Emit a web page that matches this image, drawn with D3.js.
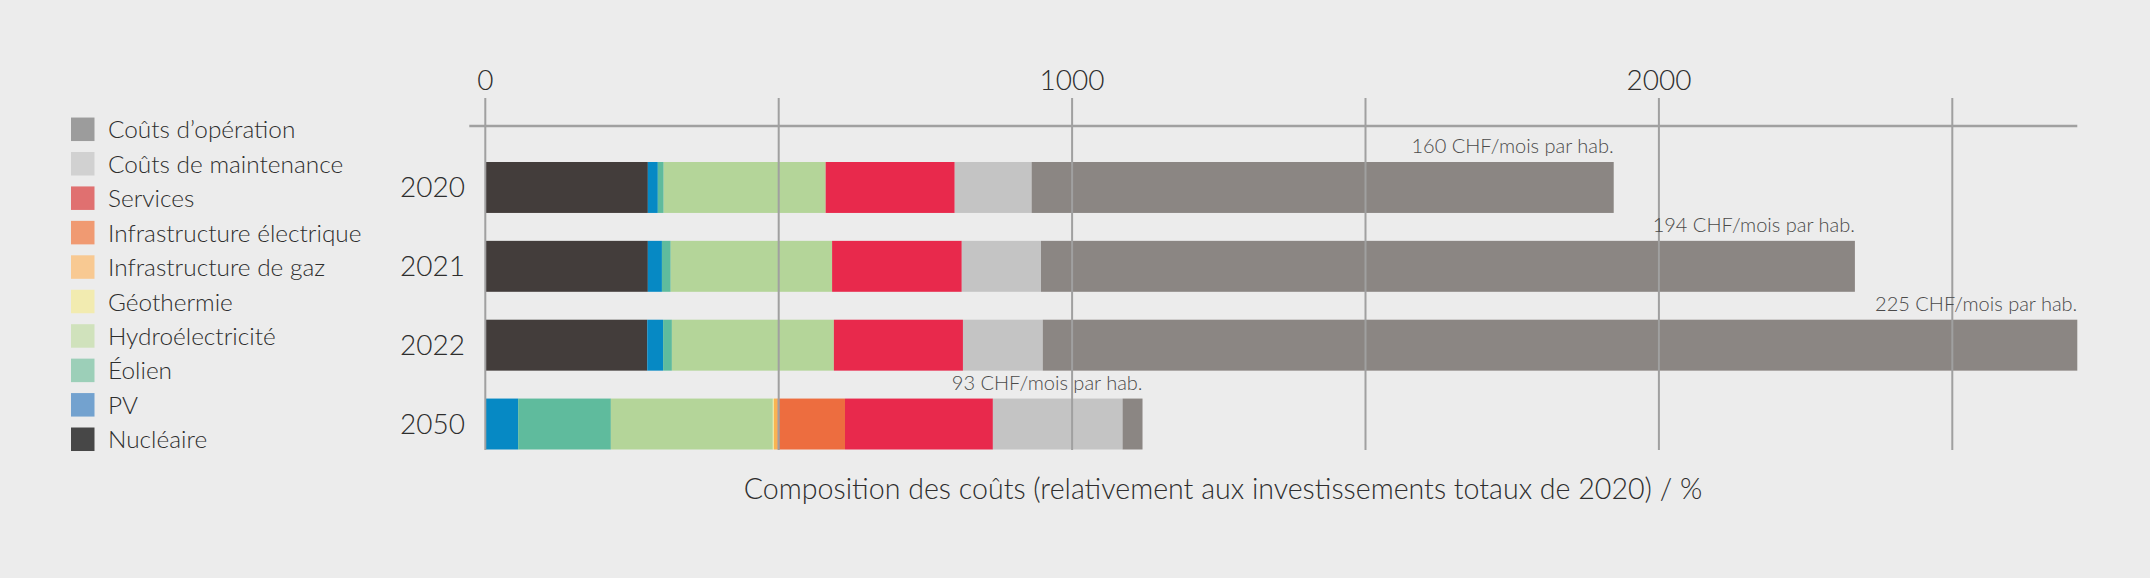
<!DOCTYPE html>
<html>
<head>
<meta charset="utf-8">
<script src="https://cdn.jsdelivr.net/npm/d3@7"></script>
<style>
  html, body { margin: 0; padding: 0; background: #ececec; }
  svg { display: block; }
  text { font-family: Lato, "Open Sans", sans-serif; font-weight: 300; }
</style>
</head>
<body>
<svg id="chart" width="2150" height="578"></svg>
<script>
// ---- data ----
const categories = ["2020", "2021", "2022", "2050"];
const seriesNames = ["Nucléaire", "PV", "Éolien", "Hydroélectricité", "Géothermie",
  "Infrastructure de gaz", "Infrastructure électrique", "Services",
  "Coûts de maintenance", "Coûts d’opération"];
const nucleaire   = [277, 277, 276, 0];
const pv          = [17, 24, 27, 56];
const eolien      = [10, 15, 15, 158];
const hydro       = [276, 275, 276, 276];
const geothermie  = [0, 0, 0, 2];
const gaz         = [0, 0, 0, 6];
const elec        = [0, 0, 0, 115];
const services    = [220, 221, 220, 252];
const maintenance = [131, 135, 136, 221];
const operation   = [992, 1387, 1763, 34];
const perCapita   = [160, 194, 225, 93];
const gridTicks   = [0, 500, 1000, 1500, 2000, 2500];
const labelTicks  = [0, 1000, 2000];
const legendOrder = ["Coûts d’opération", "Coûts de maintenance", "Services",
  "Infrastructure électrique", "Infrastructure de gaz", "Géothermie",
  "Hydroélectricité", "Éolien", "PV", "Nucléaire"];
const axisTitle = "Composition des coûts (relativement aux investissements totaux de 2020) / %";

// ---- styles ----
const barColors = {
  "Nucléaire": "#433d3b", "PV": "#0689c4", "Éolien": "#5fbb9d",
  "Hydroélectricité": "#b4d599", "Géothermie": "#f1e6a0",
  "Infrastructure de gaz": "#f8b452", "Infrastructure électrique": "#ed6d3f",
  "Services": "#e8294c", "Coûts de maintenance": "#c4c4c4", "Coûts d’opération": "#8b8683"
};
const legendColors = {
  "Coûts d’opération": "#9c9c9c", "Coûts de maintenance": "#d1d1d1",
  "Services": "#e07070", "Infrastructure électrique": "#f09a72",
  "Infrastructure de gaz": "#f8c992", "Géothermie": "#f2ebb0",
  "Hydroélectricité": "#d0e2bc", "Éolien": "#9ccfb8", "PV": "#73a2cf",
  "Nucléaire": "#474747"
};

const seriesArrays = [nucleaire, pv, eolien, hydro, geothermie, gaz, elec, services, maintenance, operation];
const table = categories.map((c, i) => {
  const row = { year: c };
  seriesNames.forEach((s, j) => row[s] = seriesArrays[j][i]);
  return row;
});

const svg = d3.select("#chart");
svg.append("rect").attr("width", 2150).attr("height", 578).attr("fill", "#ececec");

const x = d3.scaleLinear().domain([0, 2500]).range([485.3, 1952.3]);
const y = d3.scaleBand().domain(categories).range([162, 449.5]).paddingInner(0.354).paddingOuter(0);

const stack = d3.stack().keys(seriesNames)(table);

// bars
const g = svg.append("g");
g.selectAll("g.series").data(stack).join("g")
  .attr("class", "series")
  .attr("fill", d => barColors[d.key])
  .selectAll("rect").data(d => d.filter(v => v[1] - v[0] > 0)).join("rect")
  .attr("x", d => x(d[0]))
  .attr("y", d => y(d.data.year))
  .attr("width", d => x(d[1]) - x(d[0]))
  .attr("height", y.bandwidth());

const totals = table.map(r => d3.sum(seriesNames, s => r[s]));
const maxTotal = d3.max(totals);

// grid lines (on top of bars)
const gridColor = "#a0a0a0";
svg.append("g").selectAll("line").data(gridTicks).join("line")
  .attr("x1", d => x(d)).attr("x2", d => x(d))
  .attr("y1", 98).attr("y2", 450)
  .attr("stroke", gridColor).attr("stroke-width", 2);

// top axis line
svg.append("line")
  .attr("x1", x(0) - 16).attr("x2", x(maxTotal))
  .attr("y1", 126).attr("y2", 126)
  .attr("stroke", gridColor).attr("stroke-width", 2.5);

// tick labels
svg.append("g").selectAll("text").data(labelTicks).join("text")
  .attr("x", d => x(d)).attr("y", 90)
  .attr("text-anchor", "middle")
  .attr("font-size", 28).attr("fill", "#2e2e2e")
  .text(d => d);

// year labels
svg.append("g").selectAll("text").data(categories).join("text")
  .attr("x", 465).attr("y", d => y(d) + y.bandwidth() / 2 + 10)
  .attr("text-anchor", "end")
  .attr("font-size", 28).attr("fill", "#2e2e2e")
  .text(d => d);

// per-capita labels
svg.append("g").selectAll("text").data(categories).join("text")
  .attr("x", (d, i) => x(totals[i]))
  .attr("y", d => y(d) - 9)
  .attr("text-anchor", "end")
  .attr("font-size", 20).attr("fill", "#4a4a4a")
  .text((d, i) => perCapita[i] + " CHF/mois par hab.");

// legend
const leg = svg.append("g");
const legItems = leg.selectAll("g").data(legendOrder).join("g")
  .attr("transform", (d, i) => `translate(0, ${129.3 + i * 34.44})`);
legItems.append("rect")
  .attr("x", 71).attr("y", -11.75).attr("width", 23.5).attr("height", 23.5)
  .attr("fill", d => legendColors[d]);
legItems.append("text")
  .attr("x", 108).attr("y", 9)
  .attr("font-size", 24.4).attr("fill", "#2e2e2e")
  .text(d => d);

// axis title
svg.append("text")
  .attr("x", 1223).attr("y", 499)
  .attr("text-anchor", "middle")
  .attr("font-size", 28.6).attr("fill", "#2e2e2e")
  .text(axisTitle);
</script>
</body>
</html>
